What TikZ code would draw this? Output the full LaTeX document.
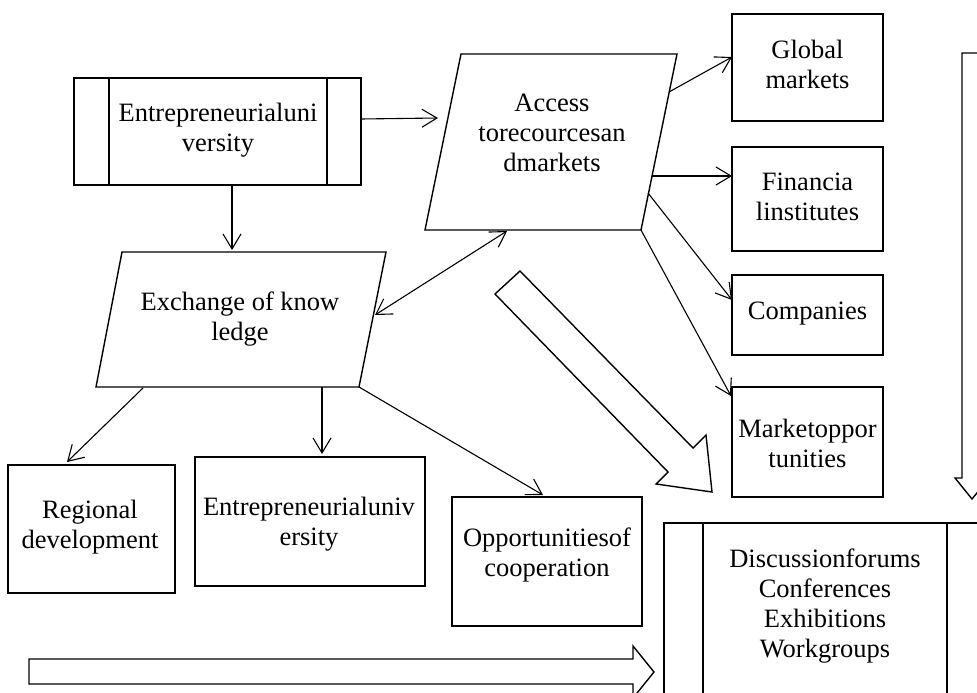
\documentclass[tikz,border=0pt]{standalone}
\usepackage{fontspec}
\setmainfont{Liberation Serif}
\usetikzlibrary{arrows.meta}
\begin{document}
\begin{tikzpicture}[x=1pt,y=-1pt,
  txt/.style={align=center, inner sep=0pt, font=\fontsize{26.5}{30}\selectfont},
  box/.style={draw, line width=1.4pt, inner sep=0pt},
  shp/.style={draw, line width=1.4pt, line join=miter},
  bigarr/.style={draw, fill=white, line width=1.4pt, line join=miter},
  arr/.style={line width=1.1pt, -{Straight Barb[length=15pt,width=18pt,line width=1.1pt]}},
  darr/.style={line width=1.1pt, {Straight Barb[length=15pt,width=18pt,line width=1.1pt]}-{Straight Barb[length=15pt,width=18pt,line width=1.1pt]}}
]
\clip (0,0) rectangle (977,693);
\fill[white] (0,0) rectangle (977,693);

% big hollow arrows
\path[bigarr] (495,294) -- (668,472) -- (656,484) -- (712,492) -- (706,435) -- (693,448) -- (520,271) -- cycle;
\path[bigarr] (29,659) -- (633,659) -- (633,646) -- (654,672) -- (633,698) -- (633,684) -- (29,684) -- cycle;
\path[bigarr] (962,53) -- (962,478) -- (955,478) -- (972,499) -- (989,478) -- (982,478) -- (982,53) -- cycle;

% top-left process box
\node[box, minimum width=287pt, minimum height=107pt] (tl) at (217.5,131.5) {};
\draw[shp] (109,78) -- (109,185);
\draw[shp] (327,78) -- (327,185);
\node[txt] (tlt) at (218,130) {Entrepreneurialuni\\versity};

% access parallelogram
\draw[shp] (461,54) -- (677,54) -- (641,230) -- (425,230) -- cycle;
\node[txt] (acc) at (552,133) {Access\\torecourcesan\\dmarkets};

% exchange parallelogram
\draw[shp] (122,252) -- (386,252) -- (359,387) -- (96,387) -- cycle;
\node[txt] (exc) at (240,319) {Exchange of know\\ledge};

% right boxes
\node[box, minimum width=151pt, minimum height=107pt] (glob) at (807.5,67.5) {};
\node[txt] at (807.5,64) {Global\\markets};
\node[box, minimum width=151pt, minimum height=104pt] (fin) at (807.5,199) {};
\node[txt] at (807.5,197) {Financia\\linstitutes};
\node[box, minimum width=151pt, minimum height=80pt] (comp) at (807.5,315) {};
\node[txt] at (807.5,314) {Companies};
\node[box, minimum width=151pt, minimum height=110pt] (mkt) at (807.5,442) {};
\node[txt] at (807.5,443) {Marketoppor\\tunities};

% bottom boxes
\node[box, minimum width=167pt, minimum height=128pt] (reg) at (91.5,529) {};
\node[txt] at (90,527) {Regional\\development};
\node[box, minimum width=230pt, minimum height=129pt] (ent) at (310,521.5) {};
\node[txt] at (309,524) {Entrepreneurialuniv\\ersity};
\node[box, minimum width=190pt, minimum height=129pt] (opp) at (547,561.5) {};
\node[txt] at (547,555) {Opportunitiesof\\cooperation};

% bottom-right process box
\draw[shp] (664,523) rectangle (1000,720);
\draw[shp] (703,523) -- (703,720);
\draw[shp] (947,523) -- (947,720);
\node[txt] (disc) at (825,606) {Discussionforums\\Conferences\\Exhibitions\\Workgroups};

% connectors
\coordinate (a1s) at (361,119); \coordinate (a1e) at (438,118);
\draw[arr] (a1s) -- (a1e);
\coordinate (a2s) at (232,185); \coordinate (a2e) at (232,250);
\draw[arr] (a2s) -- (a2e);
\coordinate (d1) at (375,315); \coordinate (d2) at (507,231);
\draw[darr] (d1) -- (d2);
\coordinate (g1) at (669,92); \coordinate (g2) at (732,57);
\draw[arr] (g1) -- (g2);
\coordinate (f1) at (652,176); \coordinate (f2) at (732,176);
\draw[arr] (f1) -- (f2);
\coordinate (c1) at (648,193); \coordinate (c2) at (732,300);
\draw[arr] (c1) -- (c2);
\coordinate (m1) at (641,230); \coordinate (m2) at (731,396);
\draw[arr] (m1) -- (m2);
\coordinate (r1) at (143,388); \coordinate (r2) at (67,462);
\draw[arr] (r1) -- (r2);
\coordinate (e1) at (322,387); \coordinate (e2) at (322,454);
\draw[arr] (e1) -- (e2);
\coordinate (o1) at (359,387); \coordinate (o2) at (543,495);
\draw[arr] (o1) -- (o2);
\end{tikzpicture}
\end{document}
